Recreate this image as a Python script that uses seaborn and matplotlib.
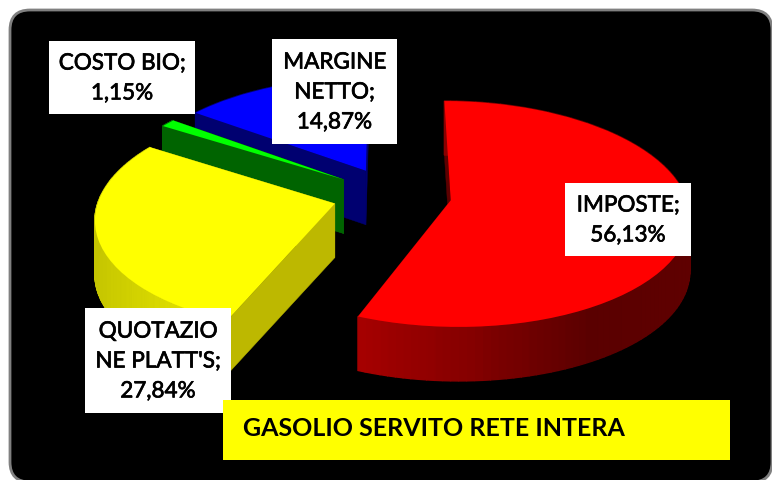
import numpy as np
import matplotlib
matplotlib.use("Agg")
import matplotlib.pyplot as plt
import matplotlib.patheffects as pe
import matplotlib.transforms as mtransforms
from matplotlib.patches import FancyBboxPatch, Rectangle
import seaborn as sns

# data
categories = ["IMPOSTE", "QUOTAZIONE PLATT'S", "COSTO BIO", "MARGINE NETTO"]
values = [56.13, 27.84, 1.15, 14.87]
label_texts = ["IMPOSTE;\n56,13%", "QUOTAZIO\nNE PLATT'S;\n27,84%", "COSTO BIO;\n1,15%", "MARGINE\nNETTO;\n14,87%"]
chart_title = "GASOLIO SERVITO RETE INTERA"

# styles
top_colours = ["#ff0000", "#ffff00", "#00ff00", "#0000ff"]
face_colours = ["#5c0000", "#bdb800", "#006400", "#000070"]
rim_stops = [
    ["#c00000", "#b00000", "#880000", "#5a0000", "#600000"],
    ["#c4c400", "#e2e200", "#f2f200", "#f2f200", "#f2f200"],
    ["#006400"] * 5,
    ["#000070"] * 5,
]
label_boxes = [(565, 183, 126, 73), (85, 308, 146, 105), (49, 41, 146, 73), (272, 39, 125, 105)]
draw_order = [3, 2, 1, 0]

START = 90
EXPLODE = 0.253
CX, CY = 392, 195
RX, RY = 235, 110
TILT = 0.12
DEPTH = 54


def project(x, y, z=0.0):
    w = 1 + TILT * y
    return CX + RX * x / w, CY - RY * y / w + z


class TiltTransform(mtransforms.Transform):
    input_dims = 2
    output_dims = 2
    is_separable = False
    has_inverse = False

    def transform_non_affine(self, values):
        values = np.asarray(values)
        px, py = project(values[:, 0], values[:, 1])
        return np.column_stack([px, py])


sns.set_style("white")
plt.rcParams["font.family"] = ["Lato", "DejaVu Sans"]

fig = plt.figure(figsize=(7.72, 4.8), dpi=100)
fig.patch.set_facecolor("white")
ax = fig.add_axes([0, 0, 1, 1])

ax.add_patch(FancyBboxPatch((10, 10), 762, 472, boxstyle="round,pad=0,rounding_size=20",
                            facecolor="black", edgecolor="#808080", linewidth=2, zorder=0))

wedges, _ = ax.pie(values, explode=[EXPLODE] * len(values), startangle=START, counterclock=False,
                   colors=top_colours, radius=1, wedgeprops={"linewidth": 0})
tilt = TiltTransform()

# sides of each slice, back slices first
fractions = np.array(values) / sum(values)
ends = START - 360 * np.cumsum(fractions)
starts = np.r_[START, ends[:-1]]

for order, i in enumerate(draw_order):
    mid = np.radians((starts[i] + ends[i]) / 2)
    ox, oy = EXPLODE * np.cos(mid), EXPLODE * np.sin(mid)
    base = 10 * (order + 1)
    for angle in (starts[i], ends[i]):
        ex = ox + np.cos(np.radians(angle))
        ey = oy + np.sin(np.radians(angle))
        p0 = project(ox, oy)
        p1 = project(ex, ey)
        p2 = project(ex, ey, DEPTH)
        p3 = project(ox, oy, DEPTH)
        ax.fill([p0[0], p1[0], p2[0], p3[0]], [p0[1], p1[1], p2[1], p3[1]],
                color=face_colours[i], linewidth=0.3, zorder=base)
    palette = sns.blend_palette(rim_stops[i], 80)
    steps = np.linspace(starts[i], ends[i], 120)
    for a0, a1 in zip(steps[:-1], steps[1:]):
        x0, y0 = ox + np.cos(np.radians(a0)), oy + np.sin(np.radians(a0))
        x1, y1 = ox + np.cos(np.radians(a1)), oy + np.sin(np.radians(a1))
        q0, q1 = project(x0, y0), project(x1, y1)
        q2, q3 = project(x1, y1, DEPTH), project(x0, y0, DEPTH)
        t = (np.cos(np.radians(a0)) + 1) / 2
        ax.fill([q0[0], q1[0], q2[0], q3[0]], [q0[1], q1[1], q2[1], q3[1]],
                color=palette[min(int(t * 79), 79)], linewidth=1.0, zorder=base + 1)
    wedges[i].set_transform(tilt + ax.transData)
    wedges[i].set_zorder(base + 2)

for text, (x, y, w, h) in zip(label_texts, label_boxes):
    ax.add_patch(Rectangle((x, y), w, h, facecolor="white", edgecolor="none", zorder=60))
    ax.text(x + w / 2, y + h / 2 + 1, text, ha="center", va="center", fontsize=16.2, color="black",
            linespacing=1.62, zorder=61,
            path_effects=[pe.withStroke(linewidth=0.5, foreground="black")])

ax.add_patch(Rectangle((223, 400), 507, 60, facecolor="#ffff00", edgecolor="none", zorder=62))
ax.text(243, 428, chart_title, ha="left", va="center", fontsize=18, fontweight="bold",
        color="black", zorder=63)

ax.set_aspect("auto")
ax.set_xlim(0, 772)
ax.set_ylim(480, 0)
ax.axis("off")

fig.savefig("out.png", dpi=100, facecolor="white")
